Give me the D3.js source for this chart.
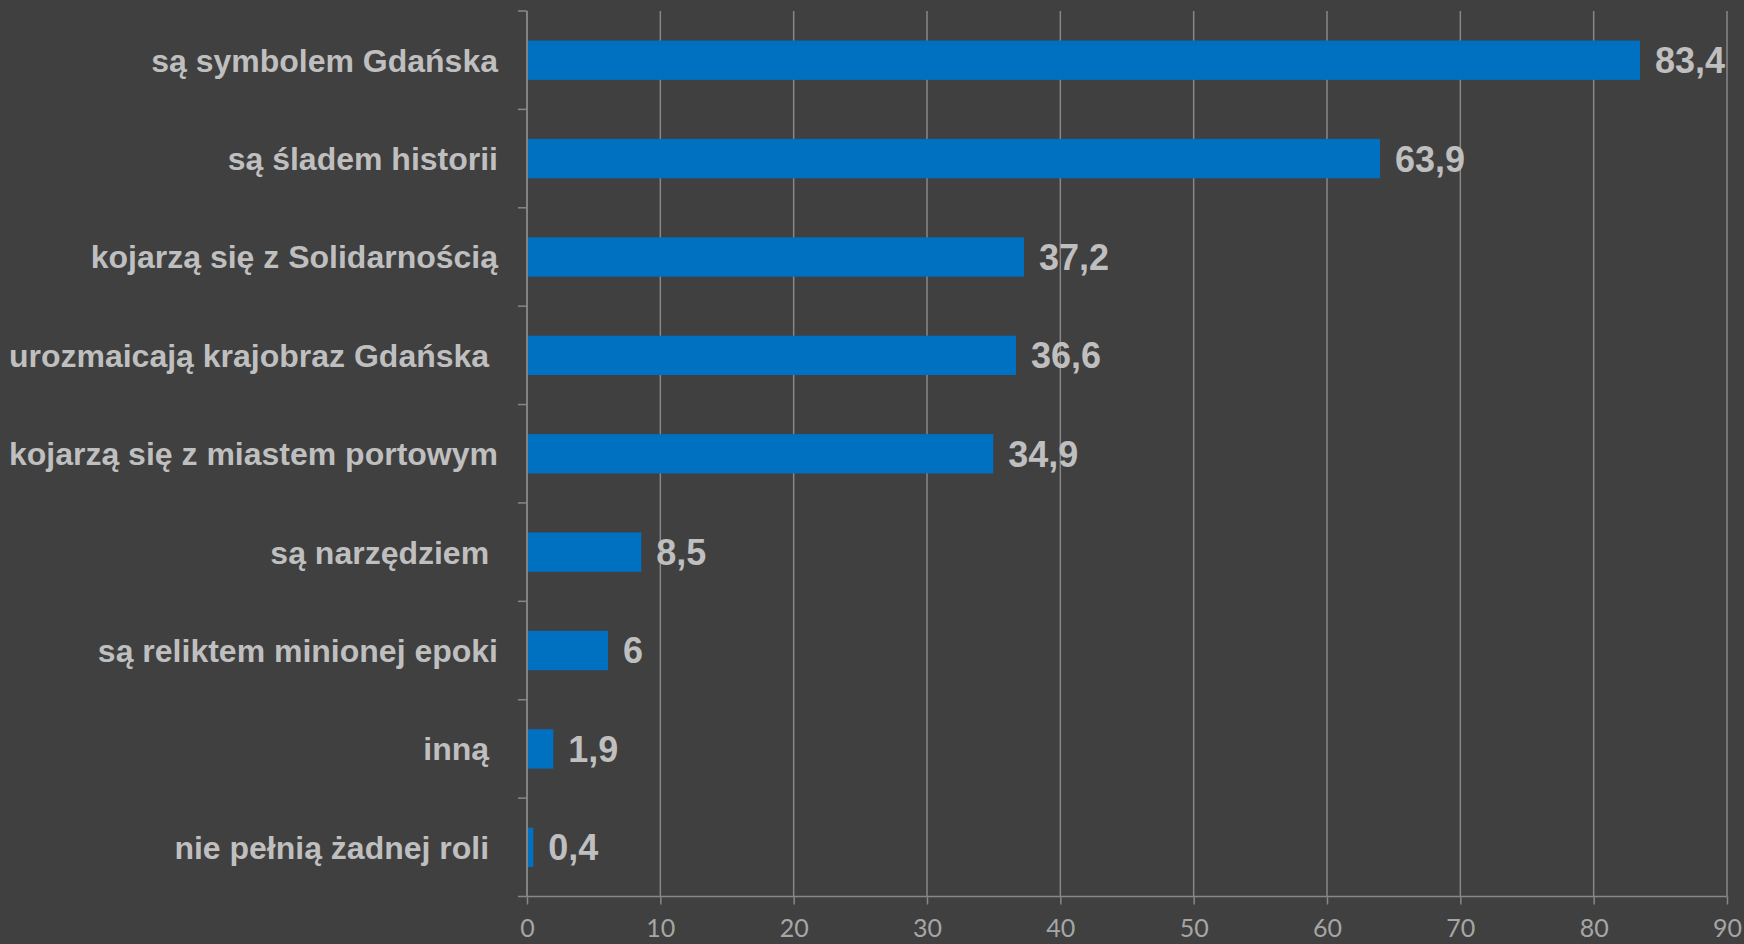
<!DOCTYPE html>
<html>
<head>
<meta charset="utf-8">
<script src="https://cdn.jsdelivr.net/npm/d3@7"></script>
<style>
  html, body { margin: 0; padding: 0; background: #404040; }
  svg { display: block; }
</style>
</head>
<body>
<script>
// chart data
var categories = [
  "są symbolem Gdańska",
  "są śladem historii",
  "kojarzą się z Solidarnością",
  "urozmaicają krajobraz Gdańska ",
  "kojarzą się z miastem portowym",
  "są narzędziem ",
  "są reliktem minionej epoki",
  "inną ",
  "nie pełnią żadnej roli "
];
var values = [83.4, 63.9, 37.2, 36.6, 34.9, 8.5, 6, 1.9, 0.4];
var xTicks = [0, 10, 20, 30, 40, 50, 60, 70, 80, 90];

var width = 1744,
    height = 944;
var margin = {top: 11, right: 17, bottom: 47.5, left: 527};
var w = width - margin.left - margin.right,
    h = height - margin.top - margin.bottom;

var svg = d3.select("body")
    .append("svg")
    .attr("width", width)
    .attr("height", height);

svg.append("rect")
    .attr("width", width)
    .attr("height", height)
    .attr("fill", "#404040");

var g = svg.append("g")
    .attr("transform", "translate(" + margin.left + "," + margin.top + ")");

var x = d3.scaleLinear()
    .domain([0, 90])
    .range([0, w]);

var y = d3.scaleBand()
    .domain(categories)
    .range([0, h])
    .paddingInner(0.6)
    .paddingOuter(0.3);

var lineColor = "#878787";

//vertical gridlines
g.selectAll(".grid")
    .data(xTicks)
    .enter()
    .append("line")
    .attr("class", "grid")
    .attr("x1", function(d){ return x(d); })
    .attr("x2", function(d){ return x(d); })
    .attr("y1", 0)
    .attr("y2", h)
    .attr("stroke", lineColor)
    .attr("stroke-width", 1.5);

//x axis
var xAxis = g.append("g")
    .attr("transform", "translate(0," + h + ")")
    .call(d3.axisBottom(x).tickValues(xTicks).tickSize(8).tickSizeOuter(0).tickPadding(15));
xAxis.select(".domain").remove();
xAxis.selectAll("line").attr("stroke", lineColor).attr("stroke-width", 1.5);
xAxis.selectAll("text")
    .attr("fill", "#a6a6a6")
    .style("font-family", "Lato, 'Open Sans', sans-serif")
    .style("font-size", "25px");
xAxis.append("line")
    .attr("x1", -9)
    .attr("x2", w)
    .attr("stroke", lineColor)
    .attr("stroke-width", 1.5);

//y axis line and category boundary ticks
g.append("line")
    .attr("x1", 0).attr("x2", 0)
    .attr("y1", 0).attr("y2", h)
    .attr("stroke", lineColor)
    .attr("stroke-width", 1.5);

var bounds = d3.range(categories.length).map(function(i){ return i * y.step(); });
g.selectAll(".ytick")
    .data(bounds)
    .enter()
    .append("line")
    .attr("class", "ytick")
    .attr("x1", -9).attr("x2", 0)
    .attr("y1", function(d){ return d; })
    .attr("y2", function(d){ return d; })
    .attr("stroke", lineColor)
    .attr("stroke-width", 1.5);

//bars
g.selectAll(".bar")
    .data(values)
    .enter()
    .append("rect")
    .attr("class", "bar")
    .attr("x", x(0) + 1)
    .attr("y", function(d, i){ return y(categories[i]); })
    .attr("width", function(d){ return x(d) - x(0); })
    .attr("height", y.bandwidth())
    .attr("fill", "#0070c0");

//value labels
g.selectAll(".val")
    .data(values)
    .enter()
    .append("text")
    .attr("class", "val")
    .attr("x", function(d){ return x(d) + 16; })
    .attr("y", function(d, i){ return y(categories[i]) + y.bandwidth() / 2; })
    .attr("dy", "0.36em")
    .attr("fill", "#bfbfbf")
    .style("font-family", "'Liberation Sans', Arial, sans-serif")
    .style("font-weight", "bold")
    .style("font-size", "36px")
    .text(function(d){ return String(d).replace(".", ","); });

//category labels
g.selectAll(".cat")
    .data(categories)
    .enter()
    .append("text")
    .attr("class", "cat")
    .attr("x", -29)
    .attr("y", function(d){ return y(d) + y.bandwidth() / 2; })
    .attr("dy", "0.36em")
    .attr("text-anchor", "end")
    .attr("fill", "#bfbfbf")
    .style("white-space", "pre")
    .style("font-family", "'Liberation Sans', Arial, sans-serif")
    .style("font-weight", "bold")
    .style("font-size", "32px")
    .text(function(d){ return d; });
</script>
</body>
</html>
